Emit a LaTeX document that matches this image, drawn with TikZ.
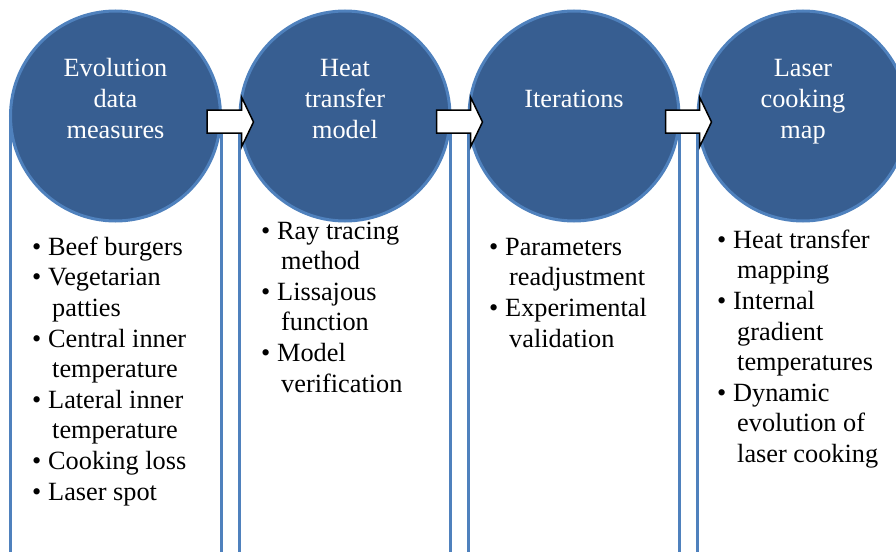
\documentclass[tikz,border=0pt]{standalone}
\usepackage{fontspec}
\setmainfont{Liberation Serif}
\usetikzlibrary{calc}
\definecolor{circfill}{HTML}{375E91}
\definecolor{circline}{HTML}{4F81BD}
% bullet and hanging indent for the item lists
\newcommand\bul{\makebox[16pt][l]{\textbullet}}
\newcommand\cnt{\hspace*{20pt}}
\begin{document}
\begin{tikzpicture}[x=1pt,y=-1pt,
  panel/.style={draw=circline,line width=3pt,fill=white},
  circ/.style={circle,draw=circline,line width=3pt,fill=circfill,minimum size=210pt,inner sep=0pt},
  ctitle/.style={text=white,font=\fontsize{26.3}{30.6}\selectfont,align=center,inner sep=0pt,anchor=base},
  blist/.style={text=black,font=\fontsize{26.3}{30.6}\selectfont,align=left,inner sep=0pt,anchor=base west},
  barrow/.style={draw=black,line width=1.5pt,fill=white,line join=miter}]
\useasboundingbox (0,0) rectangle (896,551);
\clip (0,0) rectangle (896,551);

% column panels behind the circles
\draw[panel] (10,116) rectangle (221,600);
\draw[panel] (239.5,116) rectangle (450.5,600);
\draw[panel] (468.5,116) rectangle (679.5,600);
\draw[panel] (697.5,116) rectangle (908.5,600);

% stage circles
\node[circ] (c1) at (115.5,116) {};
\node[circ] (c2) at (345,116) {};
\node[circ] (c3) at (574,116) {};
\node[circ] (c4) at (803,116) {};

% stage titles (anchored on the baseline of their last line)
\node[ctitle] (t1) at (115.5,138) {Evolution\\data\\measures};
\node[ctitle] (t2) at (345,138) {Heat\\transfer\\model};
\node[ctitle] (t3) at (574,107) {Iterations};
\node[ctitle] (t4) at (803,138) {Laser\\cooking\\map};

% block arrows between consecutive stages
\foreach \a/\b in {c1/c2,c2/c3,c3/c4}{
  \draw[barrow] ($(\a.east)+(-15,-6)$) -- ($(\b.west)+(3,-6)$) -- ($(\b.west)+(3,-19)$)
    -- ($(\b.west)+(15,6)$) -- ($(\b.west)+(3,31)$) -- ($(\b.west)+(3,17)$)
    -- ($(\a.east)+(-15,17)$) -- cycle;
}

% item lists (anchored on the baseline of their last line)
\node[blist] (l1) at (32,500) {\bul Beef burgers\\\bul Vegetarian\\\cnt patties\\\bul Central inner\\\cnt temperature\\\bul Lateral inner\\\cnt temperature\\\bul Cooking loss\\\bul Laser spot};
\node[blist] (l2) at (261,392) {\bul Ray tracing\\\cnt method\\\bul Lissajous\\\cnt function\\\bul Model\\\cnt verification};
\node[blist] (l3) at (489,347) {\bul Parameters\\\cnt readjustment\\\bul Experimental\\\cnt validation};
\node[blist] (l4) at (717,462.5) {\bul Heat transfer\\\cnt mapping\\\bul Internal\\\cnt gradient\\\cnt temperatures\\\bul Dynamic\\\cnt evolution of\\\cnt laser cooking};
\end{tikzpicture}
\end{document}
